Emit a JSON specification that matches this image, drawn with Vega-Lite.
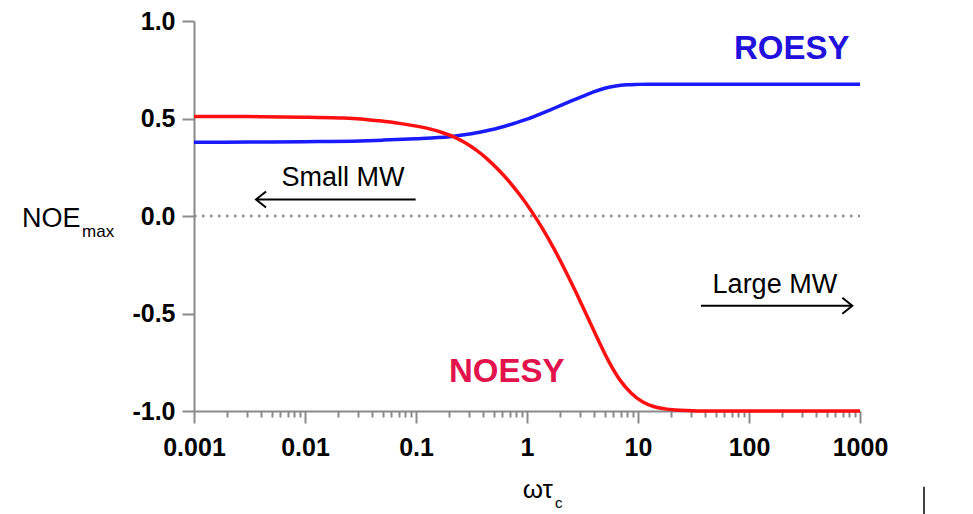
{
  "$schema": "https://vega.github.io/schema/vega-lite/v6.json",
  "width": 666,
  "height": 390,
  "autosize": {"type": "none"},
  "padding": {"left": 194, "top": 21, "right": 113, "bottom": 103},
  "background": "white",
  "config": {"view": {"stroke": null}, "font": "Liberation Sans"},
  "resolve": {"axis": {"x": "independent"}},
  "datasets": {
    "curves": [
      {"s": "ROESY", "x": 0.001, "y": 0.378},
      {"s": "ROESY", "x": 0.00316, "y": 0.379},
      {"s": "ROESY", "x": 0.01, "y": 0.381},
      {"s": "ROESY", "x": 0.0316, "y": 0.385},
      {"s": "ROESY", "x": 0.0501, "y": 0.389},
      {"s": "ROESY", "x": 0.1, "y": 0.396},
      {"s": "ROESY", "x": 0.158, "y": 0.402},
      {"s": "ROESY", "x": 0.2, "y": 0.407},
      {"s": "ROESY", "x": 0.251, "y": 0.414},
      {"s": "ROESY", "x": 0.316, "y": 0.422},
      {"s": "ROESY", "x": 0.398, "y": 0.433},
      {"s": "ROESY", "x": 0.501, "y": 0.445},
      {"s": "ROESY", "x": 0.631, "y": 0.46},
      {"s": "ROESY", "x": 0.794, "y": 0.478},
      {"s": "ROESY", "x": 1.0, "y": 0.497},
      {"s": "ROESY", "x": 1.259, "y": 0.519},
      {"s": "ROESY", "x": 1.585, "y": 0.542},
      {"s": "ROESY", "x": 1.995, "y": 0.566},
      {"s": "ROESY", "x": 2.512, "y": 0.59},
      {"s": "ROESY", "x": 3.162, "y": 0.613},
      {"s": "ROESY", "x": 3.981, "y": 0.636},
      {"s": "ROESY", "x": 5.012, "y": 0.655},
      {"s": "ROESY", "x": 6.31, "y": 0.667},
      {"s": "ROESY", "x": 7.943, "y": 0.673},
      {"s": "ROESY", "x": 10, "y": 0.675},
      {"s": "ROESY", "x": 12.59, "y": 0.676},
      {"s": "ROESY", "x": 15.85, "y": 0.676},
      {"s": "ROESY", "x": 1000, "y": 0.676},
      {"s": "NOESY", "x": 0.001, "y": 0.51},
      {"s": "NOESY", "x": 0.00316, "y": 0.5097},
      {"s": "NOESY", "x": 0.01, "y": 0.507},
      {"s": "NOESY", "x": 0.02, "y": 0.503},
      {"s": "NOESY", "x": 0.0316, "y": 0.498},
      {"s": "NOESY", "x": 0.0468, "y": 0.488},
      {"s": "NOESY", "x": 0.0708, "y": 0.475},
      {"s": "NOESY", "x": 0.1096, "y": 0.457},
      {"s": "NOESY", "x": 0.138, "y": 0.444},
      {"s": "NOESY", "x": 0.174, "y": 0.427},
      {"s": "NOESY", "x": 0.219, "y": 0.406},
      {"s": "NOESY", "x": 0.275, "y": 0.377},
      {"s": "NOESY", "x": 0.347, "y": 0.339},
      {"s": "NOESY", "x": 0.437, "y": 0.293},
      {"s": "NOESY", "x": 0.55, "y": 0.238},
      {"s": "NOESY", "x": 0.692, "y": 0.176},
      {"s": "NOESY", "x": 0.871, "y": 0.105},
      {"s": "NOESY", "x": 1.096, "y": 0.025},
      {"s": "NOESY", "x": 1.38, "y": -0.065},
      {"s": "NOESY", "x": 1.738, "y": -0.165},
      {"s": "NOESY", "x": 2.188, "y": -0.274},
      {"s": "NOESY", "x": 2.754, "y": -0.39},
      {"s": "NOESY", "x": 3.467, "y": -0.511},
      {"s": "NOESY", "x": 4.365, "y": -0.634},
      {"s": "NOESY", "x": 5.495, "y": -0.749},
      {"s": "NOESY", "x": 6.918, "y": -0.843},
      {"s": "NOESY", "x": 8.71, "y": -0.909},
      {"s": "NOESY", "x": 10.96, "y": -0.953},
      {"s": "NOESY", "x": 13.8, "y": -0.977},
      {"s": "NOESY", "x": 17.38, "y": -0.989},
      {"s": "NOESY", "x": 21.88, "y": -0.995},
      {"s": "NOESY", "x": 27.54, "y": -0.998},
      {"s": "NOESY", "x": 34.67, "y": -0.9995},
      {"s": "NOESY", "x": 50, "y": -1.0},
      {"s": "NOESY", "x": 1000, "y": -1.0}
    ],
    "zero": [{"x": 0.001, "x2": 1000, "y": 0}],
    "cursor": [{"x": 3773, "y": -1.389, "y2": -1.53}],
    "notes": [
      {"id": "roesy", "x": 242.5, "y": 0.807, "text": "ROESY"},
      {"id": "noesy", "x": 0.656, "y": -0.85, "text": "NOESY"},
      {"id": "small", "x": 0.022, "y": 0.153, "text": "Small MW"},
      {"id": "large", "x": 171, "y": -0.397, "text": "Large MW"},
      {"id": "noe", "x": 0.0000282, "y": -0.0556, "text": "NOE"},
      {"id": "max", "x": 0.000098, "y": -0.108, "text": "max"},
      {"id": "wt", "x": 1.71, "y": -1.446, "text": "ωτ"},
      {"id": "c", "x": 1.79, "y": -1.497, "text": "c"}
    ],
    "arrows": [
      {"dir": "left", "x": 0.0993, "x2": 0.00362, "y": 0.085},
      {"dir": "right", "x": 36.9, "x2": 853, "y": -0.46}
    ]
  },
  "encoding": {
    "x": {
      "field": "x",
      "type": "quantitative",
      "scale": {"type": "log", "domain": [0.001, 1000], "nice": false},
      "axis": null
    },
    "y": {
      "field": "y",
      "type": "quantitative",
      "scale": {"domain": [-1, 1], "nice": false, "zero": false},
      "axis": {
        "values": [-1, -0.5, 0, 0.5, 1],
        "title": null,
        "grid": false,
        "domainColor": "#8a8a8a",
        "domainWidth": 2,
        "tickColor": "#8a8a8a",
        "tickWidth": 2,
        "tickSize": 12,
        "labelFont": "Liberation Sans",
        "labelFontSize": 25,
        "labelFontWeight": "bold",
        "labelColor": "black",
        "labelPadding": 7,
        "labelOverlap": false,
        "labelBound": false,
        "labelExpr": "(datum.value < 0 ? '-' : '') + format(abs(datum.value), '.1f')"
      }
    }
  },
  "layer": [
    {
      "data": {"name": "zero"},
      "mark": {"type": "rule", "color": "#8a8a8a", "strokeWidth": 2.5, "strokeDash": [2.5, 5.5]},
      "encoding": {"x2": {"field": "x2"}}
    },
    {
      "data": {"name": "curves"},
      "transform": [{"filter": "datum.s == 'ROESY'"}],
      "mark": {"type": "line", "color": "#1a1aff", "strokeWidth": 3.5, "interpolate": "monotone"},
      "encoding": {
        "x": {
          "field": "x",
          "type": "quantitative",
          "scale": {"type": "log", "domain": [0.001, 1000], "nice": false},
          "axis": {
            "orient": "bottom",
            "values": [0.001, 0.01, 0.1, 1, 10, 100, 1000],
            "title": null,
            "grid": false,
            "domainColor": "#8a8a8a",
            "domainWidth": 2,
            "tickColor": "#8a8a8a",
            "tickWidth": 2,
            "tickSize": 12,
            "labelFont": "Liberation Sans",
            "labelFontSize": 25,
            "labelFontWeight": "bold",
            "labelColor": "black",
            "labelPadding": 12,
            "labelOverlap": false,
            "labelFlush": false,
            "labelBound": false,
            "labelExpr": "format(datum.value, '~g')"
          }
        }
      }
    },
    {
      "data": {"name": "curves"},
      "transform": [{"filter": "datum.s == 'NOESY'"}],
      "mark": {"type": "line", "color": "#ff1010", "strokeWidth": 3.5, "interpolate": "monotone"},
      "encoding": {
        "x": {
          "field": "x",
          "type": "quantitative",
          "scale": {"type": "log", "domain": [0.001, 1000], "nice": false},
          "axis": {
            "orient": "bottom",
            "values": [0.002, 0.003, 0.004, 0.005, 0.006, 0.007, 0.008, 0.009, 0.02, 0.03, 0.04, 0.05, 0.06, 0.07, 0.08, 0.09, 0.2, 0.3, 0.4, 0.5, 0.6, 0.7, 0.8, 0.9, 2, 3, 4, 5, 6, 7, 8, 9, 20, 30, 40, 50, 60, 70, 80, 90, 200, 300, 400, 500, 600, 700, 800, 900],
            "title": null,
            "grid": false,
            "domain": false,
            "labels": false,
            "tickColor": "#8a8a8a",
            "tickWidth": 2,
            "tickSize": 6
          }
        }
      }
    },
    {
      "data": {"name": "arrows"},
      "mark": {"type": "rule", "color": "black", "strokeWidth": 2},
      "encoding": {"x2": {"field": "x2"}}
    },
    {
      "data": {"name": "arrows"},
      "transform": [{"filter": "datum.dir == 'left'"}],
      "mark": {"type": "point", "shape": "M1,-0.8L0,0L1,0.8", "filled": false, "stroke": "black", "strokeWidth": 2, "size": 400, "opacity": 1},
      "encoding": {"x": {"field": "x2", "type": "quantitative"}}
    },
    {
      "data": {"name": "arrows"},
      "transform": [{"filter": "datum.dir == 'right'"}],
      "mark": {"type": "point", "shape": "M-1,-0.8L0,0L-1,0.8", "filled": false, "stroke": "black", "strokeWidth": 2, "size": 400, "opacity": 1},
      "encoding": {"x": {"field": "x2", "type": "quantitative"}}
    },
    {
      "data": {"name": "notes"},
      "transform": [{"filter": "datum.id == 'roesy'"}],
      "mark": {"type": "text", "font": "Liberation Sans", "fontSize": 33, "fontWeight": "bold", "color": "#2211dd", "align": "center", "baseline": "alphabetic"},
      "encoding": {"text": {"field": "text"}}
    },
    {
      "data": {"name": "notes"},
      "transform": [{"filter": "datum.id == 'noesy'"}],
      "mark": {"type": "text", "font": "Liberation Sans", "fontSize": 33, "fontWeight": "bold", "color": "#e2134c", "align": "center", "baseline": "alphabetic"},
      "encoding": {"text": {"field": "text"}}
    },
    {
      "data": {"name": "notes"},
      "transform": [{"filter": "datum.id == 'small' || datum.id == 'large'"}],
      "mark": {"type": "text", "font": "Liberation Sans", "fontSize": 27, "color": "black", "align": "center", "baseline": "alphabetic"},
      "encoding": {"text": {"field": "text"}}
    },
    {
      "data": {"name": "notes"},
      "transform": [{"filter": "datum.id == 'noe'"}],
      "mark": {"type": "text", "font": "Liberation Sans", "fontSize": 27, "color": "black", "align": "left", "baseline": "alphabetic"},
      "encoding": {"text": {"field": "text"}}
    },
    {
      "data": {"name": "notes"},
      "transform": [{"filter": "datum.id == 'max'"}],
      "mark": {"type": "text", "font": "Liberation Sans", "fontSize": 17, "color": "black", "align": "left", "baseline": "alphabetic"},
      "encoding": {"text": {"field": "text"}}
    },
    {
      "data": {"name": "notes"},
      "transform": [{"filter": "datum.id == 'wt'"}],
      "mark": {"type": "text", "font": "Liberation Sans", "fontSize": 26, "color": "black", "align": "right", "baseline": "alphabetic"},
      "encoding": {"text": {"field": "text"}}
    },
    {
      "data": {"name": "notes"},
      "transform": [{"filter": "datum.id == 'c'"}],
      "mark": {"type": "text", "font": "Liberation Sans", "fontSize": 15, "color": "black", "align": "left", "baseline": "alphabetic"},
      "encoding": {"text": {"field": "text"}}
    },
    {
      "data": {"name": "cursor"},
      "mark": {"type": "rule", "color": "black", "strokeWidth": 1.5},
      "encoding": {"y2": {"field": "y2"}}
    }
  ]
}
